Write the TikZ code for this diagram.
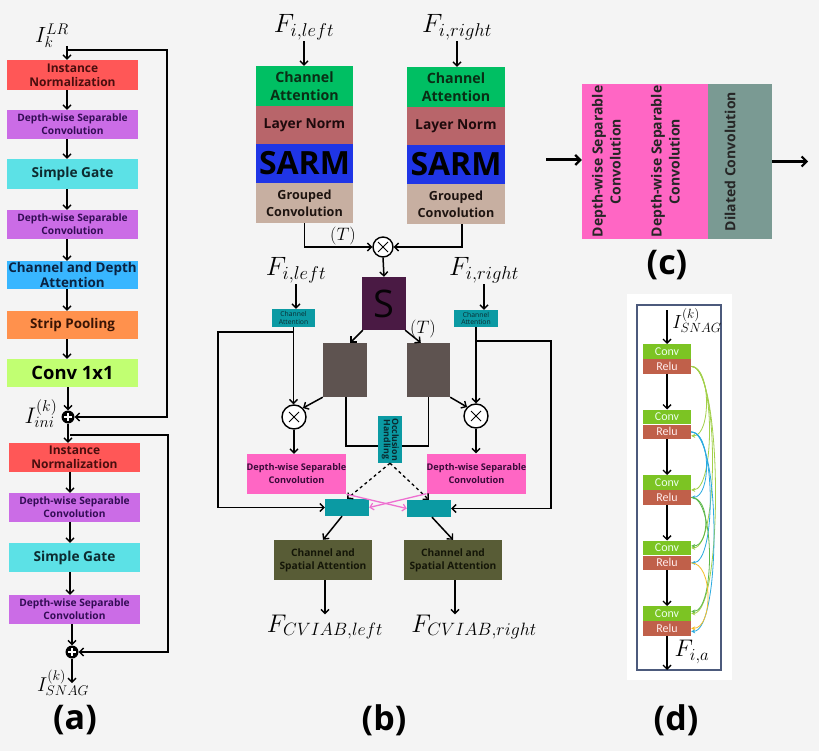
\documentclass[tikz,border=0pt]{standalone}
\RequirePackage{fix-cm}
\usepackage{fontspec}
\newfontfamily\osans{Open Sans}
\newfontfamily\carl{Carlito}
\usetikzlibrary{arrows.meta,calc}
\newcommand{\fsz}[2]{\fontsize{#1}{#2}\selectfont}
\definecolor{bgc}{HTML}{F4F4F4}
\definecolor{cRed}{HTML}{FF5757}
\definecolor{tRed}{HTML}{4A0E0E}
\definecolor{cPurple}{HTML}{CB6CE6}
\definecolor{tPurple}{HTML}{330C55}
\definecolor{cCyan}{HTML}{5CE1E6}
\definecolor{tCyan}{HTML}{0D2B30}
\definecolor{cSky}{HTML}{38B6FF}
\definecolor{tSky}{HTML}{0A2342}
\definecolor{cOrange}{HTML}{FF914D}
\definecolor{tOrange}{HTML}{3A1505}
\definecolor{cLime}{HTML}{C1FF72}
\definecolor{cGreen}{HTML}{00BF63}
\definecolor{tGreen}{HTML}{0A2E15}
\definecolor{cRose}{HTML}{B8656A}
\definecolor{tRose}{HTML}{1E0A0C}
\definecolor{cBlue}{HTML}{1F35E6}
\definecolor{cTan}{HTML}{C7AFA1}
\definecolor{tTan}{HTML}{1E1410}
\definecolor{cPlum}{HTML}{4A1A44}
\definecolor{cTeal}{HTML}{0B9AA3}
\definecolor{tTeal}{HTML}{0A2A30}
\definecolor{cGrayB}{HTML}{5E5350}
\definecolor{cPink}{HTML}{FF66C4}
\definecolor{tPink}{HTML}{3A0B3A}
\definecolor{cOlive}{HTML}{585C36}
\definecolor{tOlive}{HTML}{141608}
\definecolor{cSage}{HTML}{7A9A93}
\definecolor{cConv}{HTML}{7CC423}
\definecolor{cRelu}{HTML}{C0604A}
\definecolor{cFrame}{HTML}{4C5A7C}
\definecolor{dA}{HTML}{A2D04A}
\definecolor{dB}{HTML}{2AAAE0}
\definecolor{dC}{HTML}{5DB84A}
\definecolor{dD}{HTML}{F5BE2A}
\definecolor{pinkArr}{HTML}{EE6FD0}
\begin{document}
\begin{tikzpicture}[x=1pt,y=-1pt,
  arr/.style={-{Straight Barb[length=4pt,width=8pt,line width=1.4pt]}, line width=1.5pt},
  barr/.style={-{Straight Barb[length=5pt,width=10pt,line width=2.2pt]}, line width=3pt},
  parr/.style={-{Straight Barb[length=3.5pt,width=7pt,line width=1.2pt]}, line width=1.3pt, draw=pinkArr},
  darr/.style={-{Stealth[length=4pt,width=4pt]}, line width=0.8pt},
  abox/.style={minimum width=131pt, inner sep=0pt, align=center, font=\osans\bfseries\fsz{12}{14}},
  bstack/.style={minimum width=97pt, inner sep=0pt, align=center, font=\osans\bfseries\fsz{14.2}{18}},
  mlab/.style={inner sep=1pt, font=\fsz{21}{24}},
  mlabb/.style={inner sep=1pt, font=\fsz{26.5}{30}},
  plabel/.style={font=\osans\bfseries\fsz{34}{36}},
  plus/.style={circle, fill=black, minimum size=13pt, inner sep=0pt,
    path picture={\draw[white,line width=1.7pt]
      ([xshift=-3.6pt]path picture bounding box.center) -- ([xshift=3.6pt]path picture bounding box.center)
      ([yshift=-3.6pt]path picture bounding box.center) -- ([yshift=3.6pt]path picture bounding box.center);}},
  otimes/.style={circle, draw=black, line width=1.4pt, fill=white, inner sep=0pt,
    path picture={\draw[black,line width=1pt]
      ([shift={(-5pt,-5pt)}]path picture bounding box.center) -- ([shift={(5pt,5pt)}]path picture bounding box.center)
      ([shift={(-5pt,5pt)}]path picture bounding box.center) -- ([shift={(5pt,-5pt)}]path picture bounding box.center);}},
  steal/.style={fill=cTeal, inner sep=0pt, align=center, text=tTeal, font=\osans\fsz{6.8}{7.4}},
  dsc/.style={fill=cPink, minimum width=97pt, minimum height=40pt, inner sep=0pt, align=center, text=tPink, font=\osans\bfseries\fsz{9.2}{13}},
  csa/.style={fill=cOlive, minimum width=98pt, minimum height=40pt, inner sep=0pt, align=center, text=tOlive, font=\osans\bfseries\fsz{10.2}{13}},
  ctext/.style={inner sep=0pt, align=center, text=black!85, font=\osans\bfseries\fsz{14}{18}},
  convb/.style={fill=cConv, minimum width=48pt, minimum height=14.5pt, inner sep=0pt, text=white!92!green, font=\carl\fsz{12}{12}},
  relub/.style={fill=cRelu, minimum width=48pt, minimum height=14.5pt, inner sep=0pt, text=white!92!red, font=\carl\fsz{12}{12}}
]
\fill[bgc] (0,0) rectangle (819,751);
\useasboundingbox (0,0) rectangle (819,751);

%%%%%%%% Panel (a)
\node[mlab, font=\fsz{22}{24}] (ilr) at (52,36) {$I_k^{LR}$};
\node[abox, fill=cRed, minimum height=30pt, text=tRed] (a1) at (72.5,75) {Instance\\Normalization};
\node[abox, fill=cPurple, minimum height=29pt, text=tPurple, font=\osans\bfseries\fsz{10.2}{13}] (a2) at (72.5,124.5) {Depth-wise Separable\\Convolution};
\node[abox, fill=cCyan, minimum height=30pt, text=tCyan, font=\osans\bfseries\fsz{13.7}{16}] (a3) at (72.5,174) {Simple Gate};
\node[abox, fill=cPurple, minimum height=29pt, text=tPurple, font=\osans\bfseries\fsz{10.2}{13}] (a4) at (72.5,224.5) {Depth-wise Separable\\Convolution};
\node[abox, fill=cSky, minimum height=28pt, text=tSky, font=\osans\bfseries\fsz{13.4}{15.5}] (a5) at (72.5,275) {Channel and Depth\\Attention};
\node[abox, fill=cOrange, minimum height=28pt, text=tOrange, font=\osans\bfseries\fsz{13.4}{15}] (a6) at (72.5,325) {Strip Pooling};
\node[abox, fill=cLime, minimum height=28pt, text=black, font=\osans\bfseries\fsz{18.4}{21}] (a7) at (72.5,373) {Conv 1x1};
\node[plus] (p1) at (68,417) {};
\node[mlab, font=\fsz{22.5}{24}] (iini) at (41,414) {$I_{ini}^{(k)}$};

\coordinate (ain) at (67,46);
\coordinate (sk1) at (67,50);
\draw[arr] (ain) -- (a1.north -| ain);
\foreach \u/\v in {a1/a2,a2/a3,a3/a4,a4/a5,a5/a6,a6/a7}
  \draw[arr] (\u.south -| ain) -- (\v.north -| ain);
\draw[arr] (a7.south -| p1) -- (p1.north);
\draw[arr] (sk1) -- ++(100,0) |- (p1.east);

\node[abox, fill=cRed, minimum height=29pt, text=tRed] (b1) at (74.5,457.5) {Instance\\Normalization};
\node[abox, fill=cPurple, minimum height=29pt, text=tPurple, font=\osans\bfseries\fsz{10.2}{13}] (b2) at (74.5,507.5) {Depth-wise Separable\\Convolution};
\node[abox, fill=cCyan, minimum height=29pt, text=tCyan, font=\osans\bfseries\fsz{13.7}{16}] (b3) at (74.5,557.5) {Simple Gate};
\node[abox, fill=cPurple, minimum height=29pt, text=tPurple, font=\osans\bfseries\fsz{10.2}{13}] (b4) at (74.5,609.5) {Depth-wise Separable\\Convolution};
\node[plus] (p2) at (72,652) {};
\node[mlab, font=\fsz{20}{22}] (isnag) at (63,683) {$I_{SNAG}^{(k)}$};
\coordinate (bx) at (70,435);
\draw[arr] (p1.south) -- (b1.north -| p1);
\foreach \u/\v in {b1/b2,b2/b3,b3/b4}
  \draw[arr] (\u.south -| bx) -- (\v.north -| bx);
\draw[arr] (b4.south -| p2) -- (p2.north);
\draw[arr] (bx) -- ++(98,0) |- (p2.east);
\draw[arr] (p2.south) -- (p2.south |- isnag.center);
\node[plabel] (la) at (75,720) {(a)};

%%%%%%%% Panel (b)
\node[mlabb] (fl) at (304,27) {$F_{i,left}$};
\node[mlabb] (fr) at (457,27) {$F_{i,right}$};
\node[bstack, fill=cGreen, minimum height=40pt, text=tGreen] (lca) at (304.5,86) {Channel\\Attention};
\node[bstack, fill=cRose, minimum height=38pt, text=tRose, font=\osans\bfseries\fsz{13.8}{16}] (lln) at (304.5,125) {Layer Norm};
\node[bstack, fill=cBlue, minimum height=39pt, text=black, font=\osans\bfseries\fsz{32}{32}] (lsa) at (304.5,163.5) {SARM};
\node[bstack, fill=cTan, minimum height=40pt, text=tTan, font=\osans\bfseries\fsz{12.6}{17}] (lgc) at (304.5,203) {Grouped\\Convolution};
\node[bstack, minimum width=98pt, fill=cGreen, minimum height=40pt, text=tGreen] (rca) at (456,87) {Channel\\Attention};
\node[bstack, minimum width=98pt, fill=cRose, minimum height=38pt, text=tRose, font=\osans\bfseries\fsz{13.8}{16}] (rln) at (456,126) {Layer Norm};
\node[bstack, minimum width=98pt, fill=cBlue, minimum height=39pt, text=black, font=\osans\bfseries\fsz{32}{32}] (rsa) at (456,164.5) {SARM};
\node[bstack, minimum width=98pt, fill=cTan, minimum height=40pt, text=tTan, font=\osans\bfseries\fsz{12.6}{17}] (rgc) at (456,204) {Grouped\\Convolution};
\draw[arr] (fl.south) -- (fl.south |- lca.north);
\draw[arr] (fr.south) -- (fr.south |- rca.north);

\node[otimes, minimum size=20pt] (m1) at (383,247) {};
\draw[arr] (lgc.south) |- (m1.west);
\draw[arr] ([xshift=6pt]rgc.south) |- (m1.east);
\node[font=\fsz{18}{20}] (t1) at (343,236) {$(T)$};

\node[fill=cPlum, minimum width=44pt, minimum height=53pt, inner sep=0pt, text=black!90!cPlum, font=\osans\fsz{38}{38}] (sbox) at (384,303.5) {S};
\draw[arr] (m1.south) -- (sbox.north);

\node[mlabb] (fl2) at (296,270) {$F_{i,left}$};
\node[mlabb] (fr2) at (484,270) {$F_{i,right}$};
\node[steal, minimum width=43pt, minimum height=18pt] (cal) at (293.5,318) {Channel\\Attention};
\node[steal, minimum width=44pt, minimum height=17pt] (car) at (476,318.5) {Channel\\Attention};
\draw[arr] (fl2.south) -- (fl2.south |- cal.north);
\draw[arr] (fr2.south) -- (fr2.south |- car.north);

\node[fill=cGrayB, minimum width=44pt, minimum height=54pt, inner sep=0pt] (gl) at (345,370) {};
\node[fill=cGrayB, minimum width=43pt, minimum height=54pt, inner sep=0pt] (gr) at (428.5,370) {};
\draw[arr] ([xshift=1pt]sbox.south west) -- ([xshift=-17pt]gl.north east);
\draw[arr] ([xshift=-1pt]sbox.south east) -- ([xshift=14pt]gr.north west);
\node[font=\fsz{18}{20}] (t2) at (423,329) {$(T)$};

\node[otimes, minimum size=24pt] (oL) at (294,417) {};
\node[otimes, minimum size=24pt] (oR) at (476,416) {};
\draw[arr] (cal.south) -- (cal.south |- oL.north);
\draw[arr] (gl.south west) -- (oL.north east);
\draw[arr] (car.south) -- (car.south |- oR.north);
\draw[arr] (gr.south east) -- (oR.north west);

\draw[line width=1.5pt] ([xshift=1pt]gl.south) -- ++(0,49) -| (gr.south);
\node[fill=cTeal, minimum width=24pt, minimum height=47pt, inner sep=0pt, text=tTeal, font=\osans\bfseries\fsz{8.8}{9}] (occ) at (390,439.5)
  {\rotatebox{-90}{\begin{tabular}{@{}c@{}}Occlusion\\[-1pt]Handling\end{tabular}}};

\node[dsc] (dl) at (296.5,474) {Depth-wise Separable\\Convolution};
\node[dsc] (dr) at (476.5,473.5) {Depth-wise Separable\\Convolution};
\draw[arr] (oL.south) -- (oL.south |- dl.north);
\draw[arr] (oR.south) -- (oR.south |- dr.north);

\node[fill=cTeal, minimum width=44pt, minimum height=17pt, inner sep=0pt] (tl) at (347,507.5) {};
\node[fill=cTeal, minimum width=44pt, minimum height=17pt, inner sep=0pt] (tr) at (429,508.5) {};
\draw[arr, dashed, line width=1.3pt] (occ.south) -- (tl.north);
\draw[arr, dashed, line width=1.3pt] (occ.south) -- (tr.north);
\draw[parr] (dl.south east) -- (tr.west);
\draw[parr] (dr.south west) -- (tl.east);

\coordinate (skl) at (293.5,332);
\coordinate (skr) at (476,341);
\draw[arr] (skl) -- ++(-75.5,0) |- (tl.west);
\draw[arr] (skr) -- ++(75,0) |- (tr.east);

\node[csa] (csl) at (323,560) {Channel and\\Spatial Attention};
\node[csa] (csr) at (453,560) {Channel and\\Spatial Attention};
\draw[arr] ([xshift=-5pt]tl.south) -- (csl.north);
\draw[arr] ([xshift=3pt]tr.south) -- (csr.north);
\node[mlabb, inner sep=0pt, font=\fsz{25.5}{28}] (fcl) at (325,627) {$F_{CVIAB,left}$};
\node[mlabb, inner sep=0pt, font=\fsz{25.5}{28}] (fcr) at (474,627) {$F_{CVIAB,right}$};
\draw[arr] ([xshift=2pt]csl.south) -- ([xshift=2pt]csl.south |- fcl.north);
\draw[arr] ([xshift=2pt]csr.south) -- ([xshift=2pt]csr.south |- fcr.north);
\node[plabel] (lb) at (384,720) {(b)};

%%%%%%%% Panel (c)
\node[fill=cPink, minimum width=126pt, minimum height=155pt, inner sep=0pt] (pk) at (645,161.5) {};
\node[fill=cSage, minimum width=64pt, minimum height=155pt, inner sep=0pt] (dil) at (740,161.5) {};
\node[ctext] (c1) at (608,161.5) {\rotatebox{90}{\begin{tabular}{@{}c@{}}Depth-wise Separable\\Convolution\end{tabular}}};
\node[ctext] (c2) at (667,161.5) {\rotatebox{90}{\begin{tabular}{@{}c@{}}Depth-wise Separable\\Convolution\end{tabular}}};
\node[ctext] (c3) at (730,161.5) {\rotatebox{90}{Dilated Convolution}};
\coordinate (cin) at (546,160);
\draw[barr] (cin) -- (pk.west |- cin);
\draw[barr] (dil.east) -- ++(36,0);
\node[plabel] (lc) at (667,265) {(c)};

%%%%%%%% Panel (d)
\fill[white] (627,294) rectangle (732,680);
\draw[cFrame, line width=1.3pt] (637,305) rectangle (721,670);
\foreach \i/\t in {1/344,2/409.5,3/475,4/540.5,5/606}{
  \node[convb, anchor=north] (c\i) at (667,\t) {Conv};
  \node[relub, anchor=north] (r\i) at (c\i.south) {Relu};
}
\coordinate (din) at (667,310);
\draw[arr] (din) -- (c1.north);
\foreach \i/\j in {1/2,2/3,3/4,4/5}
  \draw[arr] (r\i.south) -- (c\j.north);
\coordinate (dout) at (667,670);
\draw[arr] (r5.south) -- (dout);
\node[inner sep=0pt, font=\fsz{19}{21}] (isn) at (697,321) {$I_{SNAG}^{(k)}$};
\node[inner sep=0pt, font=\fsz{24}{26}] (fia) at (692,652) {$F_{i,a}$};

\draw[darr, dA] (r1.east) .. controls +(20,0) and +(20,0) .. ([yshift=-4pt]r2.east);
\draw[darr, dA] (r1.east) .. controls +(24,0) and +(24,0) .. (c3.south east);
\draw[darr, dA] (r1.east) .. controls +(28,0) and +(28,0) .. (c4.east);
\draw[darr, dA] (r1.east) .. controls +(32,0) and +(32,0) .. (c5.east);
\draw[darr, dB] (r2.east) .. controls +(20,0) and +(20,0) .. (r3.east);
\draw[darr, dB] (r2.east) .. controls +(25,0) and +(25,0) .. (r4.east);
\draw[darr, dB] (r2.east) .. controls +(30,0) and +(30,0) .. ([yshift=-3pt]r5.east);
\draw[darr, dC] (r3.east) .. controls +(19,0) and +(19,0) .. ([yshift=2pt]c4.east);
\draw[darr, dC] (r3.east) .. controls +(24,0) and +(24,0) .. ([yshift=2pt]c5.east);
\draw[darr, dD] (r4.east) .. controls +(22,0) and +(22,0) .. (r5.east);
\node[plabel] (ld) at (676,720) {(d)};
\end{tikzpicture}
\end{document}
